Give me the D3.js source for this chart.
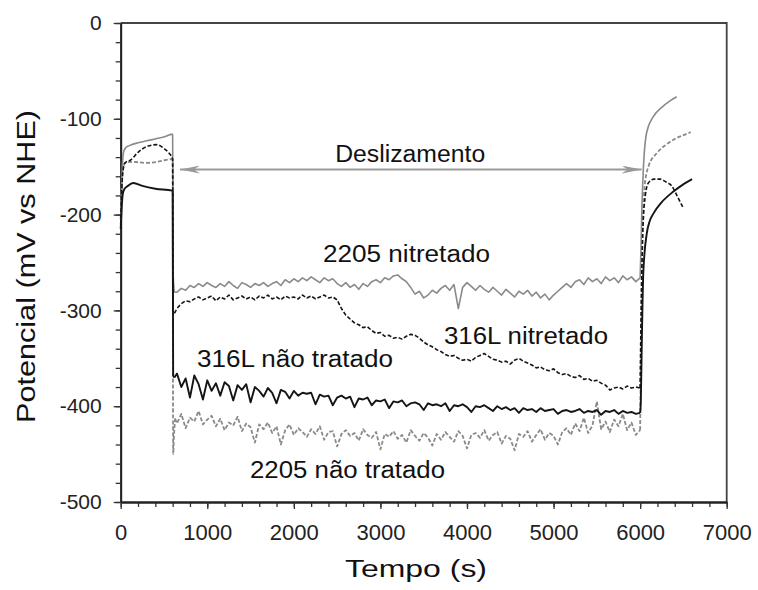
<!DOCTYPE html>
<html>
<head>
<meta charset="utf-8">
<script src="https://cdn.jsdelivr.net/npm/d3@7"></script>
<style>
  body { margin: 0; background: #fff; }
  .ticklab { font-family: "Liberation Sans", Arial, sans-serif; }
</style>
</head>
<body>
<div id="chart"></div>
<script>
// sliding phase: one reading every 50 s, from 650 s to 5950 s
var slideStart = 650, slideStep = 50;

// 2205 nitretado (grey, solid)
var nitr2205Before = [[0,-205],[8,-180],[18,-152],[35,-134],[60,-130],[100,-128],[200,-125],[300,-123],[400,-121],[500,-119],[595,-116],[600,-117],[606,-262],[620,-281]];
var nitr2205Slide = [
  -281,-277,-279,-274,-276,-272,-275,-271,-274,-276,
  -272,-275,-270,-274,-277,-271,-273,-276,-272,-274,
  -271,-275,-272,-270,-274,-268,-271,-267,-270,-266,
  -269,-265,-268,-271,-266,-269,-267,-272,-275,-271,
  -276,-273,-278,-272,-275,-270,-268,-271,-266,-268,
  -264,-263,-267,-270,-276,-283,-280,-287,-284,-279,
  -282,-277,-274,-279,-273,-298,-276,-271,-275,-279,
  -274,-278,-281,-276,-280,-284,-278,-282,-286,-280,
  -283,-279,-285,-281,-287,-283,-289,-284,-280,-276,
  -272,-276,-270,-268,-273,-266,-270,-267,-272,-265,
  -269,-266,-271,-264,-268,-265,-270];
var nitr2205After = [[6000,-266],[6010,-235],[6020,-195],[6037,-153],[6076,-114],[6150,-98],[6250,-88],[6350,-81],[6422,-77]];

// 2205 nao tratado (grey, dashed)
var untr2205Before = [[0,-205],[10,-178],[25,-155],[50,-146],[132,-145],[300,-146],[415,-145],[520,-143],[596,-142],[600,-143],[606,-450],[615,-432],[628,-413]];
var untr2205Slide = [
  -418,-408,-423,-412,-416,-405,-419,-414,-410,-421,
  -413,-425,-417,-420,-411,-426,-418,-422,-438,-419,
  -424,-417,-428,-421,-440,-425,-419,-430,-423,-427,
  -432,-424,-429,-421,-435,-427,-426,-442,-429,-425,
  -431,-428,-436,-424,-430,-433,-427,-445,-429,-432,
  -426,-434,-430,-438,-425,-431,-436,-428,-433,-441,
  -429,-435,-427,-432,-437,-426,-431,-444,-430,-428,
  -433,-425,-436,-430,-427,-439,-431,-434,-446,-429,
  -432,-426,-437,-430,-424,-435,-428,-431,-440,-427,
  -423,-430,-418,-426,-412,-428,-420,-395,-424,-416,
  -427,-414,-421,-408,-425,-417,-430];
var untr2205After = [[6000,-425],[6010,-340],[6025,-230],[6050,-172],[6095,-150],[6191,-136],[6300,-127],[6400,-121],[6500,-117],[6584,-114]];

// 316L nitretado (black, dashed)
var nitr316Before = [[0,-210],[10,-180],[25,-155],[50,-146],[115,-143],[200,-135],[300,-129],[415,-127],[500,-131],[560,-136],[596,-141],[600,-142],[606,-300],[620,-303]];
var nitr316Slide = [
  -298,-293,-290,-291,-288,-286,-289,-287,-285,-290,
  -286,-288,-284,-289,-287,-285,-288,-286,-289,-285,
  -287,-284,-288,-286,-289,-285,-287,-286,-288,-284,
  -287,-285,-288,-286,-284,-287,-286,-289,-298,-305,
  -309,-313,-315,-318,-317,-321,-324,-323,-327,-326,
  -329,-328,-330,-327,-325,-326,-329,-333,-336,-338,
  -341,-343,-346,-348,-347,-350,-352,-351,-353,-349,
  -347,-345,-348,-351,-352,-354,-353,-356,-352,-350,
  -353,-355,-357,-360,-359,-362,-363,-361,-365,-367,
  -366,-369,-370,-368,-372,-371,-374,-373,-376,-378,
  -383,-381,-380,-382,-379,-381,-380];
var nitr316After = [[6000,-381],[6012,-300],[6030,-220],[6060,-180],[6095,-167],[6160,-163],[6230,-163],[6300,-166],[6365,-170],[6430,-181],[6492,-192]];

// 316L nao tratado (black, solid)
var untr316Before = [[0,-215],[10,-195],[25,-178],[45,-173],[69,-171],[146,-167],[250,-170],[400,-173],[595,-175],[600,-176],[606,-368],[620,-370]];
var untr316Slide = [
  -366,-380,-371,-391,-368,-377,-393,-373,-384,-376,
  -389,-375,-379,-394,-378,-383,-377,-396,-380,-384,
  -390,-381,-386,-397,-383,-385,-392,-384,-389,-386,
  -387,-386,-398,-388,-390,-389,-399,-391,-389,-392,
  -390,-401,-392,-393,-391,-399,-394,-395,-393,-402,
  -395,-396,-394,-400,-397,-396,-398,-404,-397,-399,
  -398,-400,-397,-405,-399,-400,-398,-401,-406,-400,
  -401,-399,-402,-405,-400,-403,-401,-404,-402,-407,
  -402,-404,-403,-406,-402,-405,-404,-403,-408,-405,
  -404,-406,-405,-403,-407,-405,-406,-404,-409,-405,
  -406,-404,-408,-405,-407,-406,-408];
var untr316After = [[6000,-407],[6008,-395],[6020,-330],[6037,-260],[6076,-220],[6110,-207],[6153,-199],[6250,-187],[6384,-176],[6490,-169],[6600,-163]];

// tick labels
var xTicks = [0, 1000, 2000, 3000, 4000, 5000, 6000, 7000];
var yTicks = [-500, -400, -300, -200, -100, 0];

// sliding interval arrow (s, mV)
var slideArrow = { from: 685, to: 6018, level: -153 };

// text labels placed in data coordinates
var notes = [
  { text: "Deslizamento",     t: 3344, v: -145, w: 150 },
  { text: "2205 nitretado",   t: 3301, v: -249, w: 167 },
  { text: "316L nitretado",   t: 4682, v: -335, w: 164 },
  { text: "316L não tratado", t: 2013, v: -359, w: 196 },
  { text: "2205 não tratado", t: 2620, v: -475, w: 195 }
];

var series = [
  { before: nitr2205Before, slide: nitr2205Slide, after: nitr2205After, color: "#8a8a8a", dash: null, sw: 1.6 },
  { before: untr2205Before, slide: untr2205Slide, after: untr2205After, color: "#8a8a8a", dash: "4,2", sw: 1.8 },
  { before: nitr316Before, slide: nitr316Slide, after: nitr316After, color: "#151515", dash: "4,2", sw: 1.6 },
  { before: untr316Before, slide: untr316Slide, after: untr316After, color: "#151515", dash: null, sw: 1.9 }
];

var W = 758, H = 590;
var margin = { top: 23, right: 31.3, bottom: 88, left: 120.7 },
    width = W - margin.left - margin.right,
    height = H - margin.top - margin.bottom;

var svg = d3.select("#chart")
  .append("svg")
  .attr("width", W)
  .attr("height", H)
  .append("g")
  .attr("transform", "translate(" + margin.left + "," + margin.top + ")");

var x = d3.scaleLinear().domain([0, 7000]).range([0, width]);
var y = d3.scaleLinear().domain([-500, 0]).range([height, 0]);

// frame (top and right)
svg.append("path")
  .attr("d", "M0,0H" + width + "V" + height)
  .attr("fill", "none")
  .attr("stroke", "#444")
  .attr("stroke-width", 1.8);

// minor ticks
svg.append("g")
  .call(d3.axisLeft(y).tickValues(d3.range(-500, 1, 20)).tickSize(5).tickSizeOuter(0).tickFormat(""));
svg.append("g")
  .attr("transform", "translate(0," + height + ")")
  .call(d3.axisBottom(x).tickValues(d3.range(0, 7001, 200)).tickSize(5).tickSizeOuter(0).tickFormat(""));

// major ticks with labels
var plain = function (d) { return String(d); };
var yAxis = svg.append("g")
  .call(d3.axisLeft(y).tickValues(yTicks).tickFormat(plain).tickSize(7).tickSizeOuter(0).tickPadding(12));
var xAxis = svg.append("g")
  .attr("transform", "translate(0," + height + ")")
  .call(d3.axisBottom(x).tickValues(xTicks).tickFormat(plain).tickSize(7).tickSizeOuter(0).tickPadding(15));

svg.selectAll(".domain").attr("stroke", "#222").attr("stroke-width", 1.8);
svg.selectAll(".tick line").attr("stroke", "#333").attr("stroke-width", 1.3);
yAxis.attr("font-family", null).attr("font-size", null);
xAxis.attr("font-family", null).attr("font-size", null);
yAxis.selectAll("text")
  .attr("class", "ticklab")
  .attr("font-size", 21)
  .attr("fill", "#222");
xAxis.selectAll("text")
  .attr("class", "ticklab")
  .attr("font-size", 22)
  .attr("fill", "#222");

// curves: smooth open-circuit parts, raw zigzag during sliding
var smooth = d3.line()
  .x(function (d) { return x(d[0]); })
  .y(function (d) { return y(d[1]); })
  .curve(d3.curveMonotoneX);
var raw = d3.line()
  .x(function (d) { return x(d[0]); })
  .y(function (d) { return y(d[1]); });

series.forEach(function (s) {
  var mid = s.slide.map(function (v, i) { return [slideStart + i * slideStep, v]; });
  var parts = [
    { pts: s.before, gen: smooth },
    { pts: [s.before[s.before.length - 1]].concat(mid, [s.after[0]]), gen: raw },
    { pts: s.after, gen: smooth }
  ];
  parts.forEach(function (p) {
    svg.append("path")
      .datum(p.pts)
      .attr("fill", "none")
      .attr("stroke", s.color)
      .attr("stroke-width", s.sw)
      .attr("stroke-linejoin", "round")
      .attr("stroke-dasharray", s.dash)
      .attr("d", p.gen);
  });
});

// double arrow
var defs = svg.append("defs");
["arrEnd", "arrStart"].forEach(function (id, k) {
  defs.append("marker")
    .attr("id", id)
    .attr("viewBox", "0 0 20 8")
    .attr("refX", k === 0 ? 20 : 0)
    .attr("refY", 4)
    .attr("markerWidth", 20)
    .attr("markerHeight", 8)
    .attr("markerUnits", "userSpaceOnUse")
    .attr("orient", "auto")
    .append("path")
    .attr("d", k === 0 ? "M0,0 L20,4 L0,8 L6,4 Z" : "M20,0 L0,4 L20,8 L14,4 Z")
    .attr("fill", "#999");
});
svg.append("line")
  .attr("x1", x(slideArrow.from))
  .attr("x2", x(slideArrow.to))
  .attr("y1", y(slideArrow.level))
  .attr("y2", y(slideArrow.level))
  .attr("stroke", "#999")
  .attr("stroke-width", 2)
  .attr("marker-start", "url(#arrStart)")
  .attr("marker-end", "url(#arrEnd)");

// annotations
svg.selectAll(".note")
  .data(notes)
  .enter()
  .append("text")
  .attr("class", "note")
  .attr("x", function (d) { return x(d.t); })
  .attr("y", function (d) { return y(d.v); })
  .attr("text-anchor", "middle")
  .attr("textLength", function (d) { return d.w; })
  .attr("lengthAdjust", "spacingAndGlyphs")
  .style("font-family", "'Liberation Sans', Arial, sans-serif")
  .style("font-size", "23px")
  .attr("fill", "#111")
  .text(function (d) { return d.text; });

// axis titles
svg.append("text")
  .attr("x", 416 - margin.left)
  .attr("y", 577 - margin.top)
  .attr("text-anchor", "middle")
  .attr("textLength", 142)
  .attr("lengthAdjust", "spacingAndGlyphs")
  .style("font-family", "'Liberation Sans', Arial, sans-serif")
  .style("font-size", "23px")
  .attr("fill", "#111")
  .text("Tempo (s)");

svg.append("text")
  .attr("transform", "translate(" + (35 - margin.left) + "," + (266.5 - margin.top) + ") rotate(-90)")
  .attr("text-anchor", "middle")
  .attr("textLength", 313)
  .attr("lengthAdjust", "spacingAndGlyphs")
  .style("font-family", "'Liberation Sans', Arial, sans-serif")
  .style("font-size", "25px")
  .attr("fill", "#111")
  .text("Potencial (mV vs NHE)");
</script>
</body>
</html>
